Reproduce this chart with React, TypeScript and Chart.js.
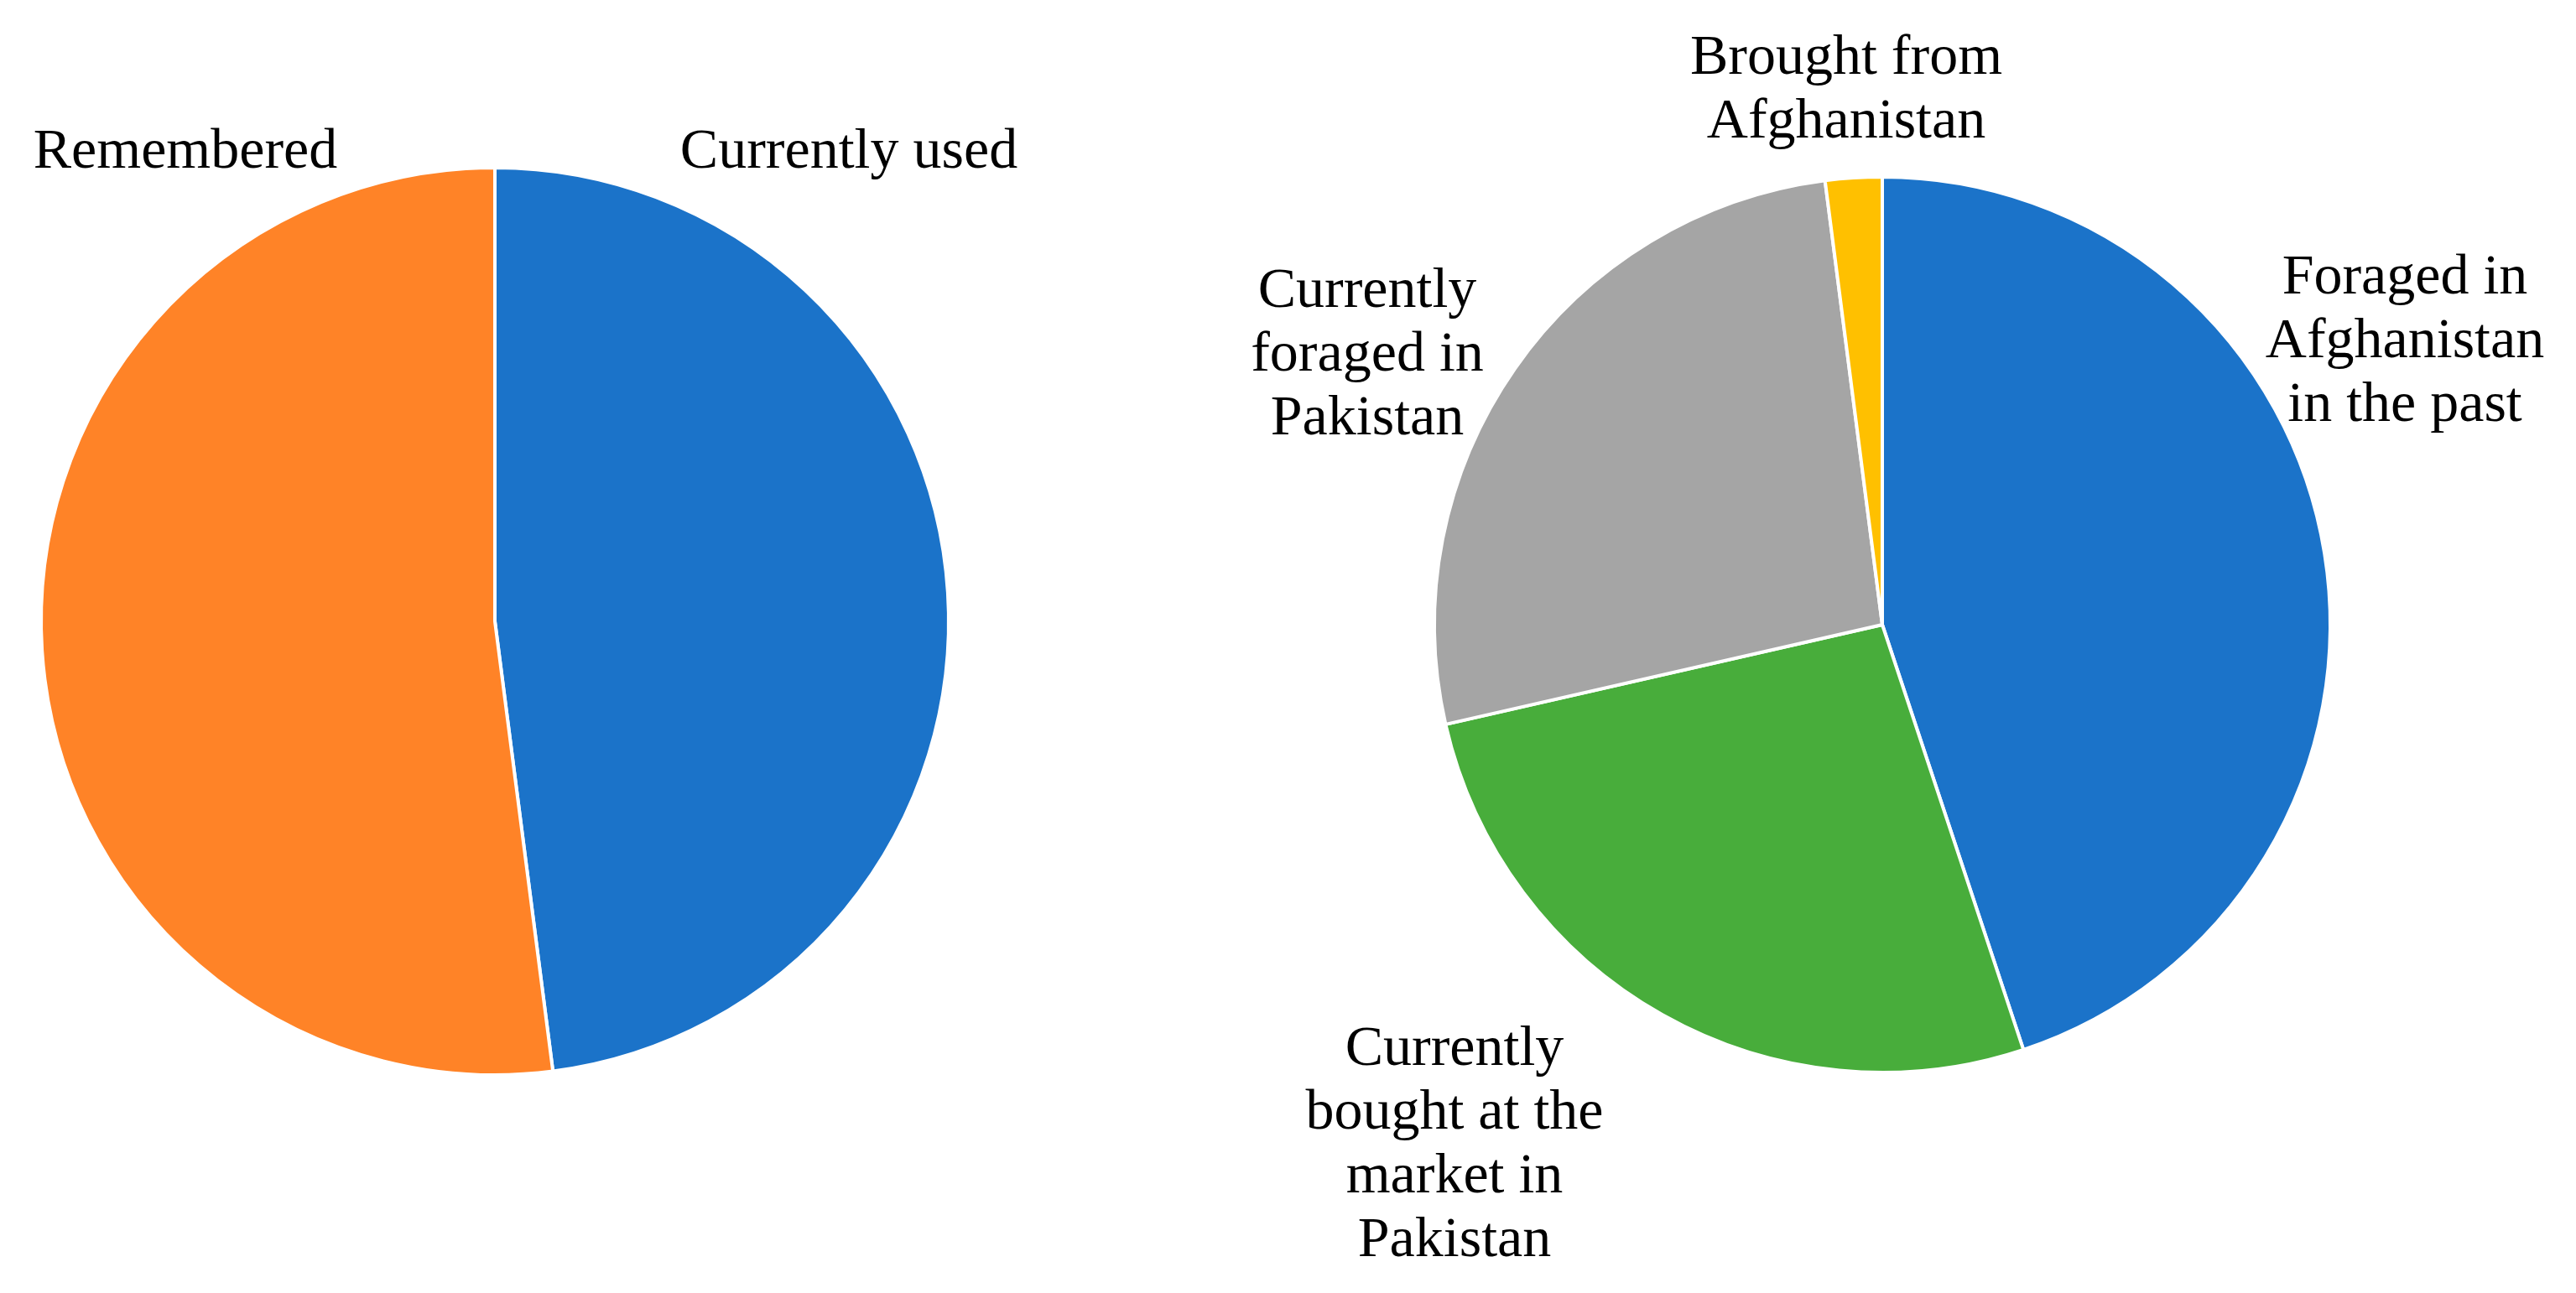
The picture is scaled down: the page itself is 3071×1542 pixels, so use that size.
import React, { useEffect, useRef } from "react";
import { Chart, registerables } from "chart.js";

Chart.register(...registerables);

// ---- Data ----
const leftCategories = ["Currently used", "Remembered"];
const leftValues = [47, 51];
const leftColors = ["#1B73C9", "#FF8327"];

const rightCategories = [
  "Foraged in Afghanistan in the past",
  "Currently bought at the market in Pakistan",
  "Currently foraged in Pakistan",
  "Brought from Afghanistan",
];
const rightValues = [44, 26, 26, 2];
const rightColors = ["#1B73C9", "#48AD3B", "#A5A5A5", "#FFC000"];

// ---- Label layout (page coordinates, centre x and first baseline) ----
const leftLabelLines = [["Currently used"], ["Remembered"]];
const leftLabelPos = [
  { x: 1012, y: 200 },
  { x: 221, y: 200 },
];
const rightLabelLines = [
  ["Foraged in", "Afghanistan", "in the past"],
  ["Currently", "bought at the", "market in", "Pakistan"],
  ["Currently", "foraged in", "Pakistan"],
  ["Brought from", "Afghanistan"],
];
const rightLabelPos = [
  { x: 2867, y: 350 },
  { x: 1734, y: 1270 },
  { x: 1630, y: 366 },
  { x: 2201, y: 88 },
];

const FONT = '68px "Liberation Serif", "Times New Roman", serif';
const LINE_H = 76;

const W = 3071;
const H = 1542;

function labelPlugin(lines: string[][], pos: { x: number; y: number }[]) {
  return {
    id: "sliceLabels",
    afterDraw(chart: any) {
      const ctx = chart.ctx;
      ctx.save();
      ctx.font = FONT;
      ctx.fillStyle = "#000000";
      ctx.textAlign = "center";
      ctx.textBaseline = "alphabetic";
      lines.forEach((ls, i) => {
        ls.forEach((t, j) => {
          ctx.fillText(t, pos[i].x, pos[i].y + j * LINE_H);
        });
      });
      ctx.restore();
    },
  };
}

function makePie(
  canvas: HTMLCanvasElement,
  labels: string[],
  values: number[],
  colors: string[],
  padding: { left: number; right: number; top: number; bottom: number },
  plugin: any
) {
  return new Chart(canvas, {
    type: "pie",
    data: {
      labels,
      datasets: [
        {
          data: values,
          backgroundColor: colors,
          borderColor: "#FFFFFF",
          borderWidth: 4,
          hoverOffset: 0,
          offset: 0,
        },
      ],
    },
    options: {
      animation: false,
      responsive: false,
      devicePixelRatio: 1,
      events: [],
      layout: { padding },
      plugins: {
        legend: { display: false },
        tooltip: { enabled: false },
        title: { display: false },
      },
    },
    plugins: [plugin],
  });
}

export default function App() {
  const leftRef = useRef<HTMLCanvasElement>(null);
  const rightRef = useRef<HTMLCanvasElement>(null);

  useEffect(() => {
    if (!leftRef.current || !rightRef.current) return;
    const c1 = makePie(
      leftRef.current,
      leftCategories,
      leftValues,
      leftColors,
      { left: 47, right: 1938, top: 198, bottom: 258 },
      labelPlugin(leftLabelLines, leftLabelPos)
    );
    const c2 = makePie(
      rightRef.current,
      rightCategories,
      rightValues,
      rightColors,
      { left: 1708, right: 291, top: 209, bottom: 261 },
      labelPlugin(rightLabelLines, rightLabelPos)
    );
    return () => {
      c1.destroy();
      c2.destroy();
    };
  }, []);

  const cs: React.CSSProperties = {
    position: "absolute",
    left: 0,
    top: 0,
    width: W,
    height: H,
  };

  return (
    <div
      style={{
        position: "absolute",
        left: 0,
        top: 0,
        width: W,
        height: H,
        background: "#FFFFFF",
        overflow: "hidden",
      }}
    >
      <canvas ref={leftRef} width={W} height={H} style={cs} />
      <canvas ref={rightRef} width={W} height={H} style={cs} />
    </div>
  );
}
